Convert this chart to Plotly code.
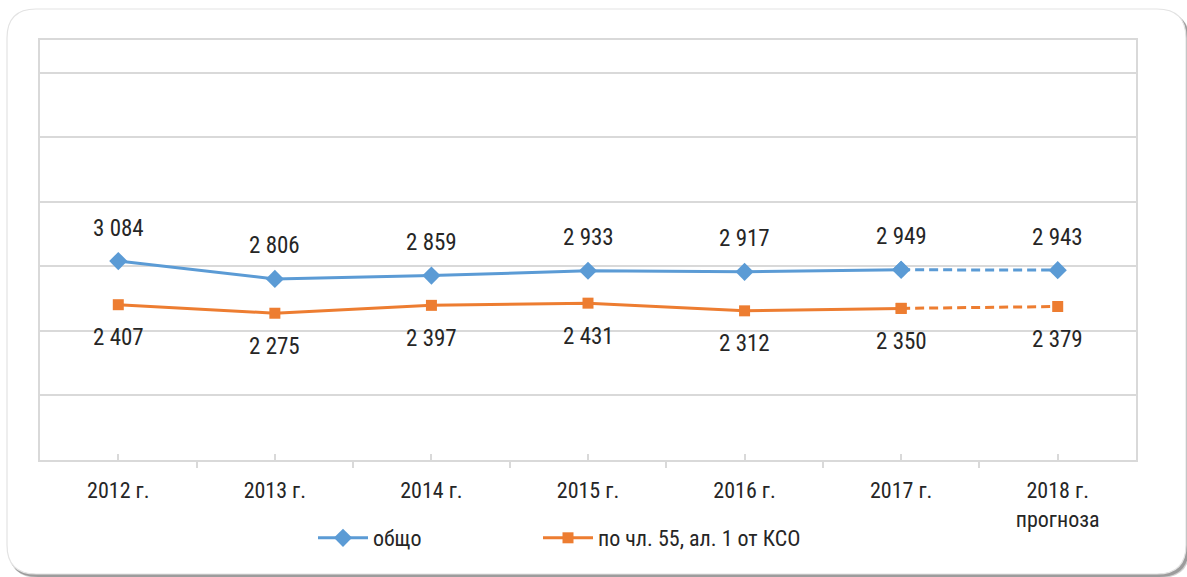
import plotly.graph_objects as go

categories = ["2012 г.", "2013 г.", "2014 г.", "2015 г.", "2016 г.", "2017 г.", "2018 г.<br>прогноза"]
obshto = [3084, 2806, 2859, 2933, 2917, 2949, 2943]
po_chl55 = [2407, 2275, 2397, 2431, 2312, 2350, 2379]
series_names = ["общо", "по чл. 55, ал. 1 от КСО"]

W, H = 1187, 577
L, R, T, B = 40, 1136, 40, 460
FONT = "Liberation Sans Narrow, Arial Narrow, Roboto Condensed, Arial, sans-serif"
BLUE = "#5b9bd5"
ORANGE = "#ed7d31"
GRID = "#d9d9d9"
TXT = "#262626"

x = list(range(len(categories)))
n_solid = len(categories) - 1  # last segment is the forecast (dashed)

fig = go.Figure()

def add_series(vals, name, color, symbol, msize, legend_id):
    fig.add_trace(go.Scatter(
        x=x[:n_solid], y=vals[:n_solid], mode="lines+markers", name=name,
        line=dict(color=color, width=3),
        marker=dict(symbol=symbol, size=msize, color=color),
        showlegend=True, legend=legend_id, hoverinfo="skip"))
    fig.add_trace(go.Scatter(
        x=x[n_solid - 1:], y=vals[n_solid - 1:], mode="lines+markers", name=name,
        line=dict(color=color, width=3, dash="9px,5px"),
        marker=dict(symbol=symbol, size=msize, color=color),
        showlegend=False, legend=legend_id, hoverinfo="skip"))

add_series(obshto, series_names[0], BLUE, "diamond", 14, "legend")
add_series(po_chl55, series_names[1], ORANGE, "square", 11, "legend2")

def fmt(v):
    return f"{v:,}".replace(",", " ")

annotations = []
for xi, v in zip(x, obshto):
    annotations.append(dict(x=xi, y=v, xref="x", yref="y", text=fmt(v), showarrow=False,
                            yshift=33, font=dict(family=FONT, size=23, color=TXT)))
for xi, v in zip(x, po_chl55):
    annotations.append(dict(x=xi, y=v, xref="x", yref="y", text=fmt(v), showarrow=False,
                            yshift=-33, font=dict(family=FONT, size=23, color=TXT)))

# card background (rounded rectangle with shadow), in pixel -> paper coordinates
def xp(px):
    return (px - L) / (R - L)

def yp(py):
    return (B - py) / (B - T)

def rrect(x0, y0, x1, y1, r):
    pts = [
        f"M {xp(x0 + r)},{yp(y0)}",
        f"L {xp(x1 - r)},{yp(y0)}",
        f"Q {xp(x1)},{yp(y0)} {xp(x1)},{yp(y0 + r)}",
        f"L {xp(x1)},{yp(y1 - r)}",
        f"Q {xp(x1)},{yp(y1)} {xp(x1 - r)},{yp(y1)}",
        f"L {xp(x0 + r)},{yp(y1)}",
        f"Q {xp(x0)},{yp(y1)} {xp(x0)},{yp(y1 - r)}",
        f"L {xp(x0)},{yp(y0 + r)}",
        f"Q {xp(x0)},{yp(y0)} {xp(x0 + r)},{yp(y0)}",
        "Z",
    ]
    return " ".join(pts)

shapes = [
    dict(type="path", xref="paper", yref="paper", layer="below",
         path=rrect(9, 12, 1190, 578, 30), fillcolor="rgba(0,0,0,0.18)", line=dict(width=0)),
    dict(type="path", xref="paper", yref="paper", layer="below",
         path=rrect(8, 11, 1189, 577, 30), fillcolor="rgba(0,0,0,0.25)", line=dict(width=0)),
    dict(type="path", xref="paper", yref="paper", layer="below",
         path=rrect(7, 9, 1186, 574, 29), fillcolor="white", line=dict(color="#e3e3e3", width=1.2)),
]

legend_common = dict(orientation="h", yanchor="middle", y=yp(538), xanchor="left",
                     font=dict(family=FONT, size=22, color=TXT),
                     itemwidth=50, bgcolor="rgba(0,0,0,0)")

fig.update_layout(
    width=W, height=H,
    margin=dict(l=L, r=W - R, t=T, b=H - B, pad=0),
    paper_bgcolor="white",
    plot_bgcolor="rgba(0,0,0,0)",
    font=dict(family=FONT, size=22, color=TXT),
    showlegend=True,
    legend=dict(legend_common, x=xp(313)),
    legend2=dict(legend_common, x=xp(538)),
    annotations=annotations,
    shapes=shapes,
)

fig.update_xaxes(
    range=[-0.5, len(categories) - 0.5],
    tickmode="array", tickvals=x, ticktext=categories,
    ticks="inside", ticklen=6, tickwidth=1.5, tickcolor=GRID,
    minor=dict(tickmode="array", tickvals=[i - 0.5 for i in range(len(categories) + 1)],
               ticks="outside", ticklen=6, tickwidth=1.5, tickcolor=GRID, showgrid=False),
    showline=True, linecolor=GRID, linewidth=2, mirror=True,
    showgrid=False, zeroline=False,
    tickfont=dict(family=FONT, size=22, color=TXT),
    ticklabelstandoff=10,
)
fig.update_yaxes(
    range=[0, 6510], dtick=1000, tick0=0,
    showticklabels=False, ticks="",
    showgrid=True, gridcolor=GRID, gridwidth=1.5,
    showline=True, linecolor=GRID, linewidth=2, mirror=True,
    zeroline=False,
)

fig.write_html("out.html", config={"displayModeBar": False},
               post_script="document.body.style.margin='0';document.body.style.overflow='hidden';")
